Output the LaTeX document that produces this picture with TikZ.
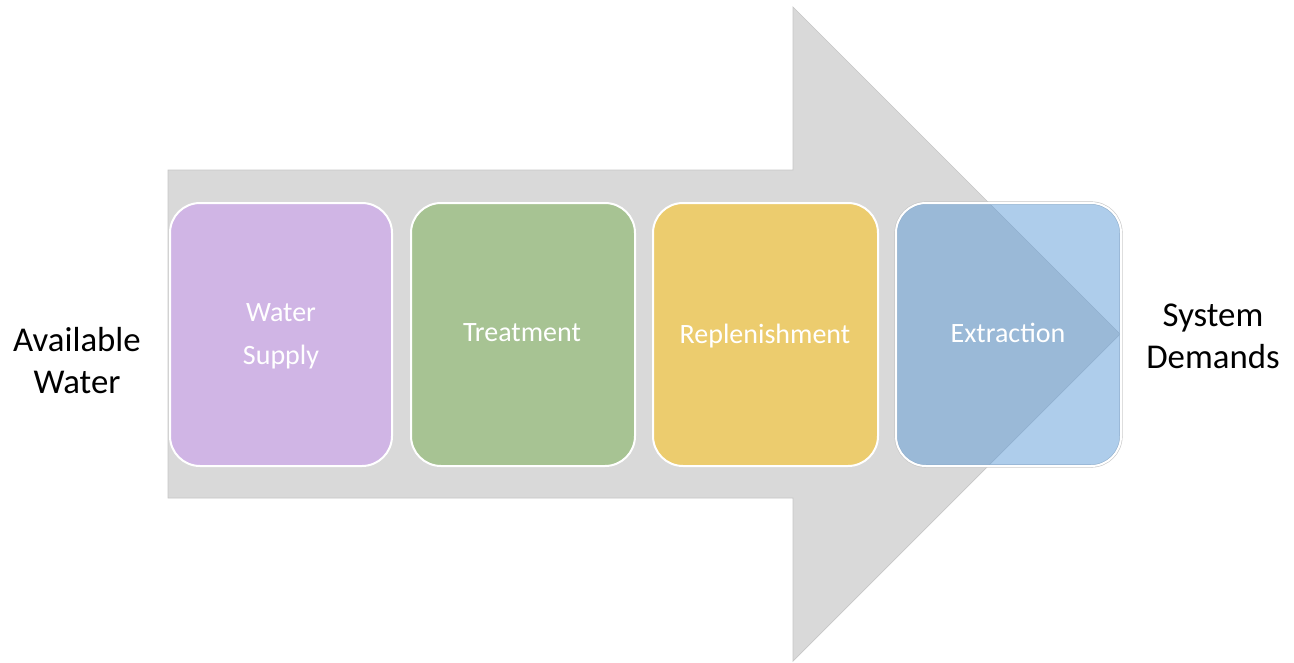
\documentclass[tikz,border=0pt]{standalone}
\usepackage{fontspec}
\setmainfont{Carlito}
\definecolor{arrowgrey}{HTML}{D9D9D9}
\definecolor{arrowedge}{HTML}{C6C6C6}
\definecolor{boxpurple}{HTML}{D0B5E5}
\definecolor{boxgreen}{HTML}{A7C393}
\definecolor{boxyellow}{HTML}{ECCC6E}
\definecolor{boxblue}{HTML}{5D9BD7}
\begin{document}
\begin{tikzpicture}[x=1pt,y=-1pt,
  stagebox/.style={rounded corners=30pt, draw=white, line width=2pt},
  stagetext/.style={text=white, font=\fontsize{28}{43}\selectfont, align=center},
  sidetext/.style={text=black, font=\fontsize{34.8}{42}\selectfont, align=center}]
  \useasboundingbox (0,0) rectangle (1294,662);

  % big grey process arrow
  \fill[arrowgrey, draw=arrowedge, line width=0.7pt]
    (168,170) -- (793,170) -- (793,7) -- (1120,334) -- (793,661)
    -- (793,498) -- (168,498) -- cycle;

  % stage boxes
  \draw[stagebox, fill=boxpurple] (170,203) rectangle (392,466);
  \draw[stagebox, fill=boxgreen]  (411,203) rectangle (635,466);
  \draw[stagebox, fill=boxyellow] (653,203) rectangle (878,466);
  \draw[rounded corners=30pt, draw=arrowedge, line width=3.2pt] (896,203) rectangle (1121,466);
  \draw[stagebox, fill=boxblue, fill opacity=0.5] (896,203) rectangle (1121,466);

  % stage labels
  \node[stagetext] (supply) at (281,336) {Water\\Supply};
  \node[stagetext] (treat)  at (522,333) {Treatment};
  \node[stagetext] (repl)   at (765,335.7) {Replenishment};
  \node[stagetext] (extr)   at (1008,333) {Extraction};

  % input and output labels
  \node[sidetext] (avail)  at (77,360.5) {Available\\Water};
  \node[sidetext] (demand) at (1213,336) {System\\Demands};
\end{tikzpicture}
\end{document}
